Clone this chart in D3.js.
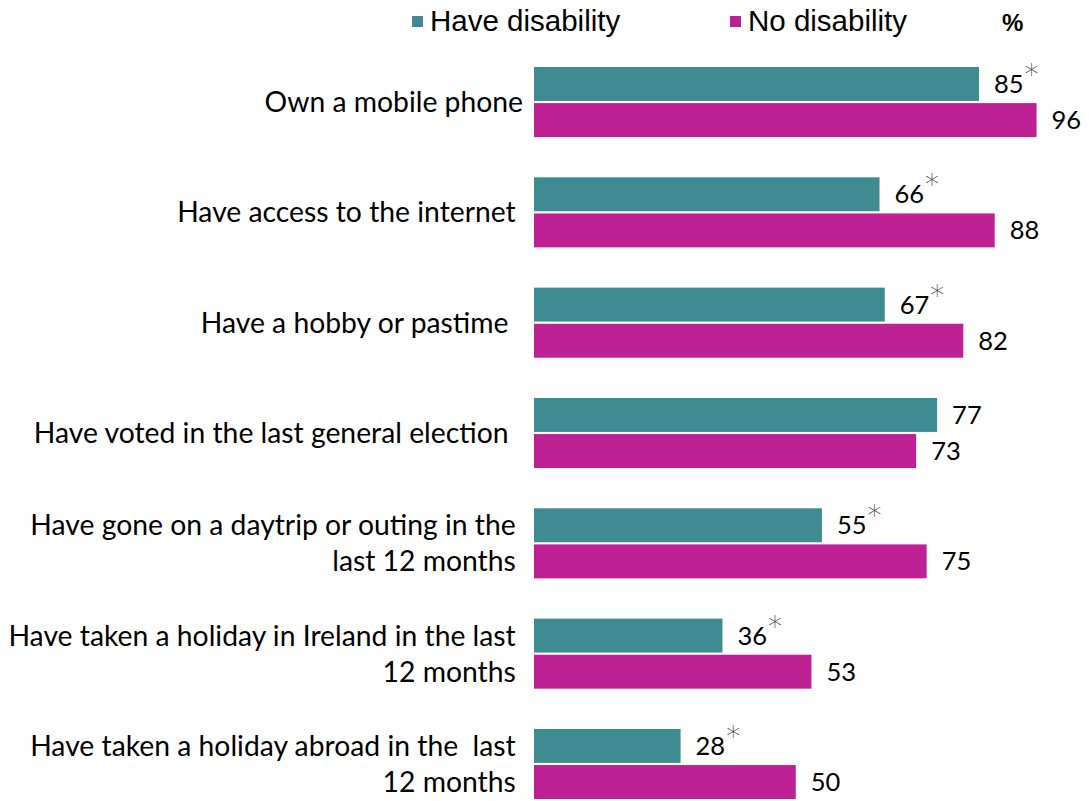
<!DOCTYPE html>
<html>
<head>
<meta charset="utf-8">
<script src="https://cdn.jsdelivr.net/npm/d3@7/dist/d3.min.js"></script>
<style>
  html, body { margin: 0; padding: 0; background: #fff; }
  svg { display: block; }
</style>
</head>
<body>
<svg id="chart" width="1089" height="801"></svg>
<script>
// Activities, one line of label text per entry
const categories = [
  ["Own a mobile phone"],
  ["Have access to the internet "],
  ["Have a hobby or pastime  "],
  ["Have voted in the last general election  "],
  ["Have gone on a daytrip or outing in the ", "last 12 months "],
  ["Have taken a holiday in Ireland in the last ", "12 months "],
  ["Have taken a holiday abroad in the  last ", "12 months "]
];
const seriesNames = ["Have disability", "No disability"];
const haveDisability = [85, 66, 67, 77, 55, 36, 28];
const noDisability   = [96, 88, 82, 73, 75, 53, 50];
// statistically significant difference marker on the "Have disability" value
const significant    = [true, true, true, false, true, true, true];
const unitLabel = "%";

const colors = { "Have disability": "#3e8b91", "No disability": "#be2194" };

const svg = d3.select("#chart");
const keys = categories.map((_, i) => "c" + i);

const x = d3.scaleLinear().domain([0, 100]).range([534, 1057.5]);
const y = d3.scaleBand().domain(keys).range([67, 799]).paddingInner(0.365).paddingOuter(0);
const ySub = d3.scaleBand().domain(seriesNames).range([0, y.bandwidth()]).paddingInner(0.06);

const rows = keys.map((k, i) => ({
  key: k,
  lines: categories[i],
  values: [
    { series: "Have disability", value: haveDisability[i], star: significant[i] },
    { series: "No disability", value: noDisability[i], star: false }
  ]
}));

const groups = svg.selectAll("g.row").data(rows).join("g")
  .attr("class", "row")
  .attr("transform", d => `translate(0,${y(d.key)})`);

// bars
groups.selectAll("rect").data(d => d.values).join("rect")
  .attr("x", x(0))
  .attr("y", d => ySub(d.series))
  .attr("width", d => x(d.value) - x(0))
  .attr("height", ySub.bandwidth())
  .attr("fill", d => colors[d.series]);

// value labels
const vl = groups.selectAll("text.val").data(d => d.values).join("text")
  .attr("class", "val")
  .attr("x", d => x(d.value) + 15)
  .attr("y", d => ySub(d.series) + ySub.bandwidth() / 2 + 9)
  .attr("font-family", "Lato, 'Open Sans', sans-serif")
  .attr("font-size", 25.5)
  .attr("fill", "#000");
vl.append("tspan").text(d => d.value);
vl.filter(d => d.star).append("tspan")
  .attr("dx", 1)
  .attr("dy", -9)
  .attr("font-size", 28)
  .attr("font-family", "'DejaVu Sans', sans-serif")
  .attr("font-weight", 200)
  .attr("fill", "#444")
  .text("*");

// category labels
groups.append("text")
  .attr("class", "cat")
  .attr("text-anchor", "end")
  .attr("font-family", "Lato, 'Open Sans', sans-serif")
  .attr("font-size", 28.3)
  .attr("fill", "#000")
  .style("white-space", "pre")
  .selectAll("tspan").data(d => d.lines.map((t, i) => ({ t, i, n: d.lines.length }))).join("tspan")
  .attr("x", 523)
  .attr("y", d => y.bandwidth() / 2 + 10 + (d.i - (d.n - 1) / 2) * 36)
  .text(d => d.t);

// legend
const legendX = [412, 730];
const legend = svg.append("g").attr("class", "legend");
seriesNames.forEach((s, i) => {
  legend.append("rect")
    .attr("x", legendX[i]).attr("y", 16)
    .attr("width", 11).attr("height", 11)
    .attr("fill", colors[s]);
  legend.append("text")
    .attr("x", legendX[i] + 18).attr("y", 31)
    .attr("font-family", "'Liberation Sans', Arial, sans-serif")
    .attr("font-size", 29.5)
    .attr("fill", "#000")
    .text(s);
});
legend.append("text")
  .attr("x", 1002).attr("y", 31)
  .attr("font-family", "'Liberation Sans', Arial, sans-serif")
  .attr("font-size", 24)
  .attr("font-weight", "bold")
  .attr("fill", "#000")
  .text(unitLabel);
</script>
</body>
</html>
